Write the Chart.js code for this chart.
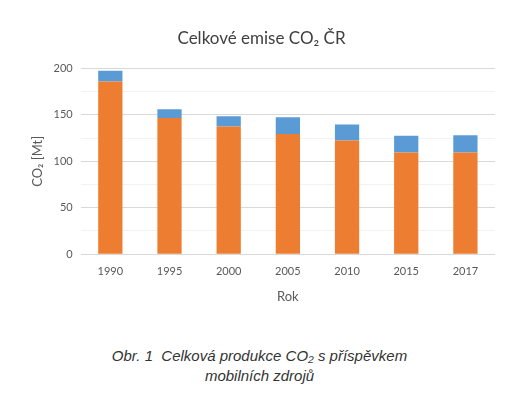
<!DOCTYPE html>
<html>
<head>
<meta charset="utf-8">
<script src="https://cdn.jsdelivr.net/npm/chart.js@4/dist/chart.umd.min.js"></script>
<style>
  html, body { margin: 0; padding: 0; background: #fff; width: 519px; height: 393px; overflow: hidden; }
  #wrap { position: absolute; left: 0; top: 0; width: 519px; height: 309px; }
  #caption { position: absolute; left: 0; width: 519px; top: 346px; text-align: center;
    font-family: "Liberation Sans", Arial, sans-serif; font-style: italic; font-size: 15px; line-height: 20px; color: #333; }
</style>
</head>
<body>
<div id="wrap"><canvas id="c"></canvas></div>
<div id="caption">Obr. 1&nbsp; Celková produkce CO₂ s příspěvkem<br>mobilních zdrojů</div>
<script>
const categories = ["1990", "1995", "2000", "2005", "2010", "2015", "2017"];
const stationary = [186, 146.5, 137.5, 129.5, 122.5, 109.5, 109.5];
const mobile = [11.5, 9.5, 11, 18, 17, 18, 18.5];
const yTickLabels = [0, 50, 100, 150, 200];

const font = '"Lato", "Open Sans", sans-serif';
new Chart(document.getElementById('c'), {
  type: 'bar',
  data: {
    labels: categories,
    datasets: [
      { label: 'stacionární', data: stationary, backgroundColor: '#ED7D31', barPercentage: 0.41, categoryPercentage: 1 },
      { label: 'mobilní', data: mobile, backgroundColor: '#5B9BD5', barPercentage: 0.41, categoryPercentage: 1 }
    ]
  },
  options: {
    responsive: true,
    maintainAspectRatio: false,
    animation: false,
    layout: { padding: { left: 28, right: 24, top: 10, bottom: 0 } },
    plugins: {
      legend: { display: false },
      tooltip: { enabled: false },
      title: { display: true, text: 'Celkové emise CO₂ ČR', color: '#404040',
        font: { family: font, size: 17, weight: 'normal' }, padding: { top: 18, bottom: 20 } }
    },
    scales: {
      x: {
        stacked: true,
        grid: { display: false },
        border: { display: false },
        ticks: { color: '#595959', font: { family: font, size: 11 }, padding: 3 },
        title: { display: true, text: 'Rok', color: '#595959', font: { family: font, size: 13 }, padding: { top: 8 } }
      },
      y: {
        stacked: true,
        min: 0, max: 200,
        border: { display: false },
        grid: {
          color: (ctx) => (yTickLabels.includes(ctx.tick.value) ? '#d9d9d9' : '#f2f2f2'),
          drawTicks: false
        },
        ticks: {
          stepSize: 25, autoSkip: false, color: '#595959', font: { family: font, size: 11 }, padding: 8,
          callback: (v) => (yTickLabels.includes(v) ? String(v) : '')
        },
        title: { display: true, text: 'CO₂ [Mt]', color: '#595959', font: { family: font, size: 13 }, padding: { top: 2, bottom: 0 } }
      }
    }
  }
});
</script>
</body>
</html>
